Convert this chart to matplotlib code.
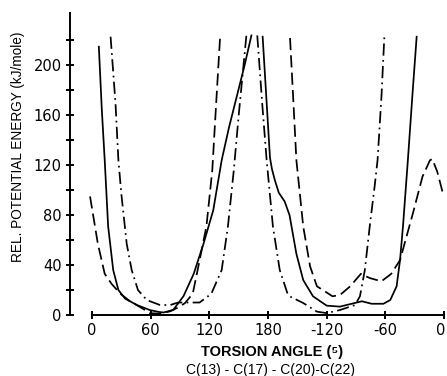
import matplotlib
matplotlib.use("Agg")
import matplotlib.pyplot as plt
from matplotlib.transforms import ScaledTranslation

plt.rcParams['font.family'] = ['DejaVu Sans']

# torsion angle (deg, 0..360) and energy (kJ/mole)
solid_a_x = [7, 10, 13, 16.5, 21.7, 27, 34, 46, 59, 68, 73, 83, 93.5, 104, 114, 124, 132.6, 140, 148, 156, 163]
solid_a_y = [215, 165, 124, 71, 36, 20, 13, 8, 4, 2.5, 2, 4, 15, 33, 57, 84, 124, 150, 175, 200, 224]
solid_b_x = [174.5, 178.6, 182, 184, 187, 191, 197, 202, 209, 216, 226, 240, 253.6, 265.5, 276, 286, 298, 305,
             311.5, 315, 318, 323, 328, 332]
solid_b_y = [223, 170, 126, 117, 108, 98, 91, 80, 49, 28, 15, 7.5, 6.7, 9, 11, 9, 9, 12,
             23, 44, 71, 124, 180, 223]

dash_x = [-2, 6, 13, 20, 29, 39, 52, 59, 70, 80, 88, 95, 103, 108, 117, 123, 127, 131]
dash_y = [95, 57, 33, 25, 17, 11, 5, 1.5, 1, 3, 6, 9.5, 17, 36, 71, 116, 170, 223]
dash_b_x = [202.5, 206, 209, 216, 223, 230, 246, 253.6, 264, 275, 284, 296, 306, 315, 328, 338, 345.6,
            348, 353, 359]
dash_b_y = [222, 170, 124, 71, 39, 23, 15, 16, 23, 33, 29.6, 27, 33, 44, 81, 111, 124,
            125, 115, 97]

dd_a_x = [19, 24, 27, 30, 35.5, 40.6, 47, 56, 69.5, 80, 88, 97, 110, 122, 132.6, 139, 145, 150, 158]
dd_a_y = [223, 170, 124, 97, 57, 36, 20, 12, 8, 8, 10, 10, 10, 17, 36, 71, 116, 160, 225]
dd_b_x = [169, 174, 178.6, 185, 192, 200, 202, 216, 230, 240, 253.6, 269, 274, 279, 284, 289, 292, 296, 299]
dd_b_y = [224, 170, 124, 71, 36, 17, 15, 9.6, 2.7, 1.5, 4, 8, 15, 36, 71, 103, 124, 175, 224]

xticks = [0, 60, 120, 180, 240, 300, 360]
xticklabels = ['0', '60', '120', '180', '-120', '-60', '0']
yticks_major = [0, 40, 80, 120, 160, 200]
yticks_minor = [20, 60, 100, 140, 180, 220]

fig = plt.figure(figsize=(4.47, 3.76), dpi=100)
ax = fig.add_axes([70 / 447, 61 / 376, 376 / 447, 302 / 376])

lw = 1.25
dashed = (0, (7, 3))
dashdot = (0, (7, 2.5, 1, 2.5))
ax.plot(solid_a_x, solid_a_y, color='black', lw=lw)
ax.plot(solid_b_x, solid_b_y, color='black', lw=lw)
ax.plot(dash_x, dash_y, color='black', lw=lw, ls=dashed)
ax.plot(dash_b_x, dash_b_y, color='black', lw=lw, ls=dashed)
ax.plot(dd_a_x, dd_a_y, color='black', lw=lw, ls=dashdot)
ax.plot(dd_b_x, dd_b_y, color='black', lw=lw, ls=dashdot)

ax.set_xlim(-22.5, 362)
ax.set_ylim(0, 242)

for s in ['top', 'right']:
    ax.spines[s].set_visible(False)
ax.spines['left'].set_linewidth(1.4)
ax.spines['bottom'].set_linewidth(1.4)
ax.spines['bottom'].set_bounds(0, 360)

ax.set_xticks(xticks)
ax.set_xticklabels(xticklabels)
ax.set_yticks(yticks_major)
ax.set_yticks(yticks_minor, minor=True)
ax.tick_params(axis='both', which='both', direction='inout', length=6, width=1.4,
               labelsize=10.5, pad=3)

# last "0" sits right at the edge; nudge it in a little so it is not clipped
last = ax.get_xticklabels()[-1]
last.set_transform(last.get_transform() + ScaledTranslation(-3 / 100, 0, fig.dpi_scale_trans))

fig.text(18 / 447, 1 - 147 / 376, 'REL. POTENTIAL ENERGY (kJ/mole)', fontsize=9.8,
         rotation=90, ha='center', va='center', family='Liberation Sans')
fig.text(272 / 447, 1 - 352 / 376, 'TORSION ANGLE (⁵)', fontsize=10.5, fontweight='bold',
         ha='center', va='center', family='Liberation Sans')
fig.text(271 / 447, 1 - 370 / 376, 'C(13) - C(17) - C(20)-C(22)', fontsize=10,
         ha='center', va='center', family='Liberation Sans')

fig.savefig('out.png', dpi=100)
